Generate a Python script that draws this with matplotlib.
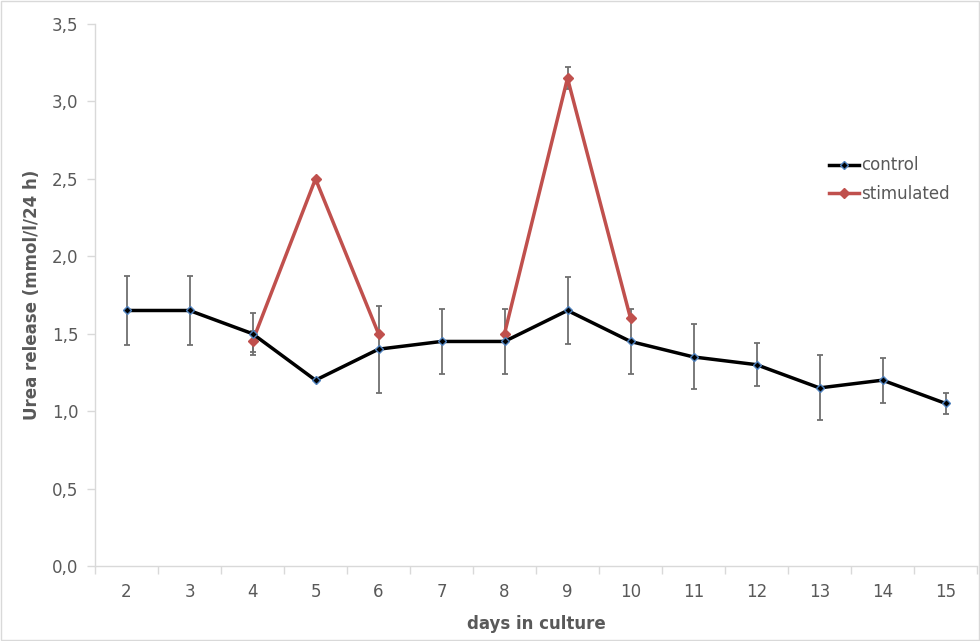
import numpy as np
import matplotlib
matplotlib.use('Agg')
import matplotlib.pyplot as plt

#%% Data
days = [2, 3, 4, 5, 6, 7, 8, 9, 10, 11, 12, 13, 14, 15]
control = [1.65, 1.65, 1.50, 1.20, 1.40, 1.45, 1.45, 1.65, 1.45, 1.35, 1.30, 1.15, 1.20, 1.05]
control_err = [0.22, 0.22, 0.135, 0.0, 0.28, 0.21, 0.21, 0.215, 0.21, 0.21, 0.14, 0.21, 0.145, 0.07]
stimulated = [np.nan, np.nan, 1.45, 2.50, 1.50, np.nan, 1.50, 3.15, 1.60, np.nan, np.nan, np.nan, np.nan, np.nan]
stimulated_err = [0, 0, 0.07, 0.0, 0.0, 0, 0.0, 0.07, 0.0, 0, 0, 0, 0, 0]
yticks = [0.0, 0.5, 1.0, 1.5, 2.0, 2.5, 3.0, 3.5]

#%% Plot
plt.rcParams['font.family'] = ['DejaVu Sans']
txt = '#595959'
grey = '#d9d9d9'
fig = plt.figure(figsize=(9.8, 6.41), dpi=100)
ax = fig.add_axes([95/980, 1-566/641, (977-95)/980, (566-24)/641])

x = np.arange(len(days))
ax.errorbar(x, control, yerr=control_err, fmt='none', ecolor='#6f6f6f',
            elinewidth=1.3, capsize=2.5, capthick=1.3, zorder=2)
ax.errorbar(x, stimulated, yerr=stimulated_err, fmt='none', ecolor='#6f6f6f',
            elinewidth=1.3, capsize=2.5, capthick=1.3, zorder=2)
ax.plot(x, control, color='black', lw=2.5, marker='D', ms=4.5,
        mfc='black', mec='#4f81bd', mew=1, label='control', zorder=4)
ax.plot(x, stimulated, color='#c0504d', lw=2.5, marker='D', ms=5,
        mfc='#c0504d', mec='#c0504d', label='stimulated', zorder=3)

ax.set_xlim(-0.5, len(days) - 0.5)
ax.set_ylim(0, 3.5)
ax.set_yticks(yticks)
ax.set_yticklabels([('%.1f' % v).replace('.', ',') for v in yticks])
ax.set_xticks(x)
ax.set_xticklabels([str(d) for d in days])
ax.set_xticks(np.arange(-0.5, len(days)), minor=True)
ax.tick_params(axis='x', which='major', length=0, pad=12, labelsize=12, labelcolor=txt)
ax.tick_params(axis='x', which='minor', length=6, color=grey, width=1)
ax.tick_params(axis='y', length=6, color=grey, width=1, labelsize=12, labelcolor=txt, pad=6)

for s in ['top', 'right']:
    ax.spines[s].set_visible(False)
for s in ['left', 'bottom']:
    ax.spines[s].set_color(grey)
    ax.spines[s].set_linewidth(1)

ax.set_xlabel('days in culture', fontsize=12, fontweight='bold', color=txt, labelpad=10)
ax.set_ylabel('Urea release (mmol/l/24 h)', fontsize=12, fontweight='bold', color=txt, labelpad=8)

leg = ax.legend(loc='upper left', bbox_to_anchor=(0.825, 0.768), frameon=False,
                fontsize=12, handlelength=1.8, handletextpad=0.1, labelspacing=0.65,
                borderaxespad=0)
for t in leg.get_texts():
    t.set_color(txt)

fig.patches.append(plt.Rectangle((0.001, 0.001), 0.998, 0.998, transform=fig.transFigure,
                                 fill=False, edgecolor=grey, lw=1))

plt.savefig('out.png', dpi=100)
